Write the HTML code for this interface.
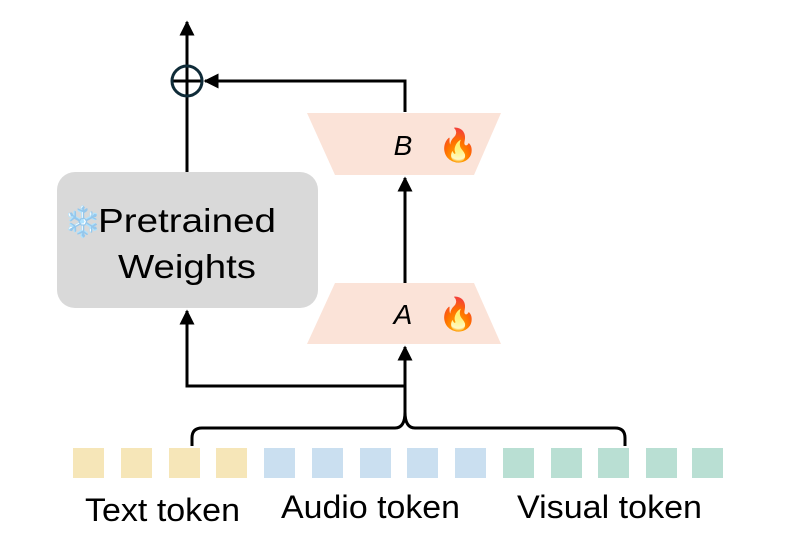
<!DOCTYPE html>
<html><head><meta charset="utf-8"><style>
html,body{margin:0;padding:0;background:#fff;}
svg{display:block;}
text{font-family:"Liberation Sans",sans-serif;fill:#000;}
</style></head><body>
<svg width="793" height="548" viewBox="0 0 793 548" xmlns="http://www.w3.org/2000/svg">
<defs><marker id="ah" viewBox="0 0 10 10" refX="9" refY="5" markerWidth="5" markerHeight="5" orient="auto-start-reverse"><path d="M0,0 L10,5 L0,10 z" fill="#000"/></marker></defs>
<rect x="57" y="172" width="261" height="136" rx="18" fill="#d9d9d9"/>
<text x="64" y="232" font-size="30">❄️</text>
<text x="98" y="232" font-size="33" textLength="178" lengthAdjust="spacingAndGlyphs">Pretrained</text>
<text x="118" y="278" font-size="33" textLength="138" lengthAdjust="spacingAndGlyphs">Weights</text>
<polygon points="307,113 501,113 474,175 335,175" fill="#fbe3d8"/>
<polygon points="335,283 474,283 501,344 307,344" fill="#fbe3d8"/>
<text x="403" y="155" font-size="28" font-style="italic" text-anchor="middle">B</text>
<text x="403" y="324" font-size="28" font-style="italic" text-anchor="middle">A</text>
<text x="458" y="156" font-size="32" text-anchor="middle">🔥</text>
<text x="458" y="325" font-size="32" text-anchor="middle">🔥</text>
<g stroke="#000" stroke-width="3" fill="none">
<line x1="187" y1="172" x2="187" y2="22" marker-end="url(#ah)"/>
<polyline points="405,112 405,81 205,81" marker-end="url(#ah)"/>
<line x1="172" y1="81" x2="203" y2="81"/>
<line x1="405" y1="283" x2="405" y2="178" marker-end="url(#ah)"/>
<line x1="405" y1="420" x2="405" y2="347" marker-end="url(#ah)"/>
<polyline points="405,386 187,386 187,311" marker-end="url(#ah)"/>
<path d="M192,446 V438 Q192,428 202,428 H395 Q405,428 405,412 Q405,428 415,428 H615 Q625,428 625,438 V446"/>
</g>
<circle cx="187" cy="81" r="15" fill="none" stroke="#0f2b38" stroke-width="3"/>
<g>
<rect x="73" y="448" width="31" height="30" fill="#f6e6b8"/>
<rect x="121" y="448" width="31" height="30" fill="#f6e6b8"/>
<rect x="169" y="448" width="31" height="30" fill="#f6e6b8"/>
<rect x="216" y="448" width="31" height="30" fill="#f6e6b8"/>
<rect x="264" y="448" width="31" height="30" fill="#cadff0"/>
<rect x="312" y="448" width="31" height="30" fill="#cadff0"/>
<rect x="360" y="448" width="31" height="30" fill="#cadff0"/>
<rect x="407" y="448" width="31" height="30" fill="#cadff0"/>
<rect x="455" y="448" width="31" height="30" fill="#cadff0"/>
<rect x="503" y="448" width="31" height="30" fill="#b9dfd3"/>
<rect x="551" y="448" width="31" height="30" fill="#b9dfd3"/>
<rect x="598" y="448" width="31" height="30" fill="#b9dfd3"/>
<rect x="646" y="448" width="31" height="30" fill="#b9dfd3"/>
<rect x="692" y="448" width="31" height="30" fill="#b9dfd3"/>
</g>
<text x="85" y="521" font-size="32" textLength="155" lengthAdjust="spacingAndGlyphs">Text token</text>
<text x="281" y="518" font-size="32" textLength="179" lengthAdjust="spacingAndGlyphs">Audio token</text>
<text x="517" y="518" font-size="32" textLength="185" lengthAdjust="spacingAndGlyphs">Visual token</text>
</svg>
</body></html>
